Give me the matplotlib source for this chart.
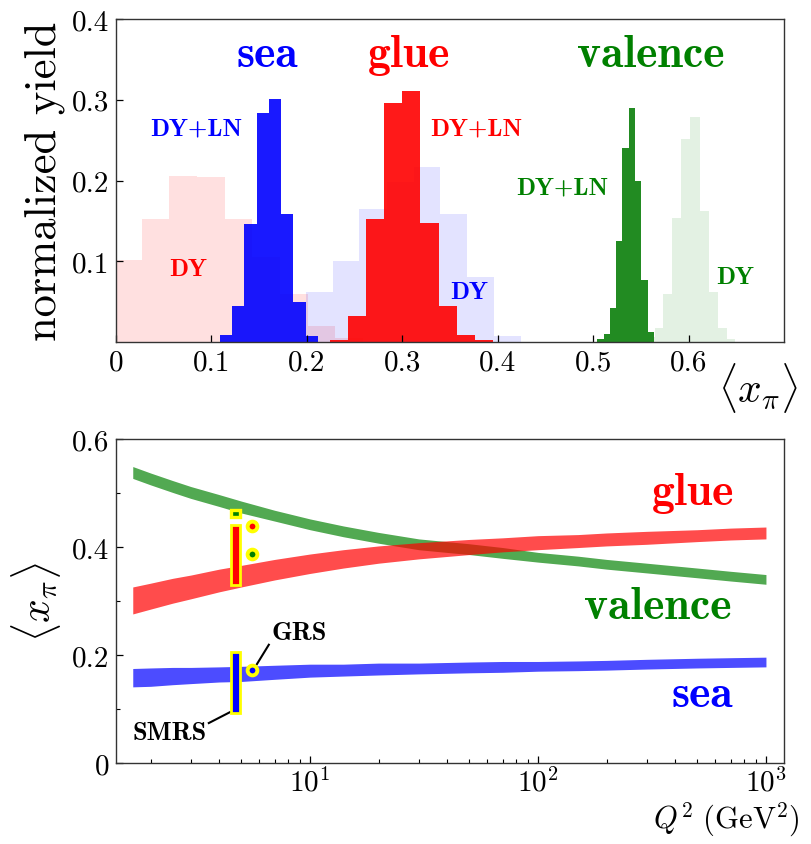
import numpy as np
import matplotlib
matplotlib.use("Agg")
import matplotlib.pyplot as plt

plt.rcParams['mathtext.fontset'] = 'cm'
plt.rcParams['font.family'] = ['cmr10', 'DejaVu Serif']
plt.rcParams['axes.unicode_minus'] = False

# ---------------- top panel data: histograms of <x_pi> ----------------
sea_dy_edges = [-0.002, 0.027, 0.056, 0.085, 0.114, 0.143, 0.172, 0.201, 0.230, 0.259]
sea_dy_vals = [0.101, 0.152, 0.206, 0.204, 0.152, 0.105, 0.059, 0.020, 0.005]

sea_ln_edges = [0.109, 0.1218, 0.1346, 0.1474, 0.1602, 0.173, 0.1858, 0.1986, 0.2114]
sea_ln_vals = [0.009, 0.044, 0.146, 0.284, 0.301, 0.159, 0.049, 0.007]

glue_dy_edges = [0.199, 0.227, 0.255, 0.284, 0.312, 0.340, 0.368, 0.396, 0.424]
glue_dy_vals = [0.062, 0.100, 0.165, 0.198, 0.217, 0.158, 0.080, 0.007]

glue_ln_edges = [0.224, 0.243, 0.262, 0.281, 0.300, 0.319, 0.338, 0.357, 0.376, 0.395]
glue_ln_vals = [0.003, 0.032, 0.152, 0.296, 0.311, 0.147, 0.044, 0.009, 0.002]

val_ln_edges = [0.5043, 0.5109, 0.5175, 0.5241, 0.5307, 0.5373, 0.5439, 0.5505, 0.5571, 0.5637]
val_ln_vals = [0.004, 0.010, 0.042, 0.125, 0.240, 0.290, 0.199, 0.077, 0.012]

val_dy_edges = [0.555, 0.5644, 0.5728, 0.5822, 0.5916, 0.601, 0.6115, 0.621, 0.6304, 0.6398, 0.6482]
val_dy_vals = [0.006, 0.017, 0.060, 0.154, 0.251, 0.279, 0.162, 0.062, 0.017, 0.004]

top_xticks = [0, 0.1, 0.2, 0.3, 0.4, 0.5, 0.6]
top_xticklabels = ['0', '0.1', '0.2', '0.3', '0.4', '0.5', '0.6']
top_yticks = [0.1, 0.2, 0.3, 0.4]
top_yticklabels = ['0.1', '0.2', '0.3', '0.4']

# ---------------- bottom panel data: <x_pi> vs Q^2 ----------------
Q2 = [1.67, 2, 2.5, 3, 4, 5, 7, 10, 14, 20, 30, 50, 70, 100, 150, 200, 300, 500, 700, 1000]
valence_lo = [0.527, 0.515, 0.501, 0.490, 0.475, 0.463, 0.448, 0.432, 0.419, 0.407,
              0.395, 0.386, 0.379, 0.372, 0.365, 0.359, 0.352, 0.343, 0.337, 0.331]
valence_hi = [0.549, 0.537, 0.523, 0.512, 0.497, 0.485, 0.468, 0.452, 0.439, 0.427,
              0.415, 0.406, 0.399, 0.390, 0.383, 0.377, 0.370, 0.361, 0.355, 0.349]
glue_lo = [0.276, 0.285, 0.296, 0.304, 0.317, 0.326, 0.339, 0.351, 0.361, 0.370,
           0.378, 0.386, 0.391, 0.395, 0.399, 0.402, 0.405, 0.410, 0.413, 0.415]
glue_hi = [0.326, 0.333, 0.342, 0.348, 0.359, 0.366, 0.377, 0.387, 0.395, 0.402,
           0.408, 0.414, 0.417, 0.421, 0.423, 0.426, 0.429, 0.432, 0.435, 0.437]
sea_lo = [0.141, 0.142, 0.145, 0.147, 0.150, 0.151, 0.155, 0.159, 0.161, 0.163,
          0.165, 0.167, 0.168, 0.170, 0.171, 0.172, 0.174, 0.176, 0.177, 0.178]
sea_hi = [0.175, 0.176, 0.177, 0.177, 0.178, 0.179, 0.181, 0.183, 0.183, 0.185,
          0.185, 0.187, 0.188, 0.188, 0.189, 0.190, 0.192, 0.194, 0.195, 0.196]

# SMRS ranges (bars) and GRS points
smrs_q2 = 4.7
smrs_glue = (0.329, 0.440)
smrs_sea = (0.0935, 0.205)
smrs_val = (0.455, 0.469)
grs_q2 = 5.55
grs_glue = 0.439
grs_val = 0.387
grs_sea = 0.172

bot_yticks = [0, 0.2, 0.4, 0.6]
bot_yticklabels = ['0', '0.2', '0.4', '0.6']
bot_xticks = [10, 100, 1000]
bot_xticklabels = [r'$10^1$', r'$10^2$', r'$10^3$']

# ---------------- figure ----------------
fig = plt.figure(figsize=(8.11, 8.45), dpi=100)
W, H = 811, 845
ax1 = fig.add_axes([116 / W, 1 - 343 / H, 668 / W, 323 / H])
ax2 = fig.add_axes([116 / W, 1 - 764 / H, 668 / W, 324 / H])

BOLD = 'cmb10'
BIG = 33
SMALL = 18

# light (DY) histograms
ax1.stairs(sea_dy_vals, sea_dy_edges, fill=True, color='red', alpha=0.12, lw=0)
ax1.stairs(glue_dy_vals, glue_dy_edges, fill=True, color='blue', alpha=0.11, lw=0)
ax1.stairs(val_dy_vals, val_dy_edges, fill=True, color='green', alpha=0.11, lw=0)
# dark (DY+LN) histograms
ax1.stairs(sea_ln_vals, sea_ln_edges, fill=True, color='blue', alpha=0.9, lw=0)
ax1.stairs(glue_ln_vals, glue_ln_edges, fill=True, color='red', alpha=0.9, lw=0)
ax1.stairs(val_ln_vals, val_ln_edges, fill=True, color='forestgreen', alpha=1.0, lw=0)

ax1.set_xlim(0, 0.70)
ax1.set_ylim(0, 0.40)
ax1.set_xticks(top_xticks)
ax1.set_xticklabels(top_xticklabels)
ax1.set_yticks(top_yticks)
ax1.set_yticklabels(top_yticklabels)

ax1.text(0.159, 0.356, 'sea', color='blue', fontfamily=BOLD, fontsize=BIG, ha='center', va='center')
ax1.text(0.307, 0.356, 'glue', color='red', fontfamily=BOLD, fontsize=BIG, ha='center', va='center')
ax1.text(0.560, 0.356, 'valence', color='green', fontfamily=BOLD, fontsize=BIG, ha='center', va='center')

ax1.text(0.084, 0.265, 'DY+LN', color='blue', fontfamily=BOLD, fontsize=SMALL, ha='center', va='center')
ax1.text(0.076, 0.090, 'DY', color='red', fontfamily=BOLD, fontsize=SMALL, ha='center', va='center')
ax1.text(0.377, 0.265, 'DY+LN', color='red', fontfamily=BOLD, fontsize=SMALL, ha='center', va='center')
ax1.text(0.370, 0.062, 'DY', color='blue', fontfamily=BOLD, fontsize=SMALL, ha='center', va='center')
ax1.text(0.468, 0.191, 'DY+LN', color='green', fontfamily=BOLD, fontsize=SMALL, ha='center', va='center')
ax1.text(0.649, 0.081, 'DY', color='green', fontfamily=BOLD, fontsize=SMALL, ha='center', va='center')

ax1.text(-0.106, 0.5, 'normalized yield', rotation=90, fontsize=32, ha='center', va='center',
         transform=ax1.transAxes)
ax1.text(0.962, -0.14, r'$\langle x_\pi \rangle$', fontsize=30, ha='center', va='center',
         transform=ax1.transAxes)

# bottom panel bands
ax2.fill_between(Q2, valence_lo, valence_hi, color='green', alpha=0.68, lw=0)
ax2.fill_between(Q2, glue_lo, glue_hi, color='red', alpha=0.7, lw=0)
ax2.fill_between(Q2, sea_lo, sea_hi, color='blue', alpha=0.7, lw=0)

bw = smrs_q2 * 0.092
ax2.bar(smrs_q2, smrs_glue[1] - smrs_glue[0], bottom=smrs_glue[0], width=bw,
        color='red', edgecolor='yellow', linewidth=2.0, zorder=4)
ax2.bar(smrs_q2, smrs_sea[1] - smrs_sea[0], bottom=smrs_sea[0], width=bw,
        color='blue', edgecolor='yellow', linewidth=2.0, zorder=4)
ax2.bar(smrs_q2, smrs_val[1] - smrs_val[0], bottom=smrs_val[0], width=bw,
        color='green', edgecolor='yellow', linewidth=2.4, zorder=4)

for v, c in [(grs_glue, 'red'), (grs_val, 'green'), (grs_sea, 'blue')]:
    ax2.plot([grs_q2], [v], 'o', ms=7.0, mfc=c, mec='yellow', mew=2.8, zorder=5)

ax2.plot([5.85, 6.6], [0.183, 0.219], color='black', lw=1.5, zorder=3)
ax2.plot([3.6, 4.45], [0.074, 0.094], color='black', lw=1.5, zorder=3)
ax2.text(9.0, 0.241, 'GRS', fontfamily=BOLD, fontsize=19, ha='center', va='center')
ax2.text(2.43, 0.056, 'SMRS', fontfamily=BOLD, fontsize=19, ha='center', va='center')

ax2.text(479, 0.500, 'glue', color='red', fontfamily=BOLD, fontsize=BIG, ha='center', va='center')
ax2.text(336, 0.289, 'valence', color='green', fontfamily=BOLD, fontsize=BIG, ha='center', va='center')
ax2.text(524, 0.126, 'sea', color='blue', fontfamily=BOLD, fontsize=BIG, ha='center', va='center')

ax2.set_xscale('log')
ax2.set_xlim(1.41, 1200)
ax2.set_ylim(0, 0.6)
ax2.set_yticks(bot_yticks)
ax2.set_yticklabels(bot_yticklabels)
ax2.set_yticks([0.1, 0.3, 0.5], minor=True)
ax2.set_xticks(bot_xticks)
ax2.set_xticklabels(bot_xticklabels)

ax2.text(-0.12, 0.5, r'$\langle x_\pi \rangle$', rotation=90, fontsize=30, ha='center', va='center',
         transform=ax2.transAxes)
ax2.text(1.024, -0.172, r'$Q^2\ (\mathrm{GeV}^2)$', fontsize=22, ha='right', va='center',
         transform=ax2.transAxes)

for ax in (ax1, ax2):
    for s in ax.spines.values():
        s.set_color('#333333')
        s.set_linewidth(1.0)
    ax.tick_params(which='major', direction='in', length=5, width=0.9, labelsize=21,
                   top=False, right=False, pad=5)
    ax.tick_params(which='minor', direction='in', length=3, width=0.8, top=False, right=False)
    for lab in ax.get_xticklabels() + ax.get_yticklabels():
        lab.set_fontfamily('cmr10')
ax2.tick_params(axis='x', which='major', pad=3)

fig.savefig('out.png', dpi=100)
